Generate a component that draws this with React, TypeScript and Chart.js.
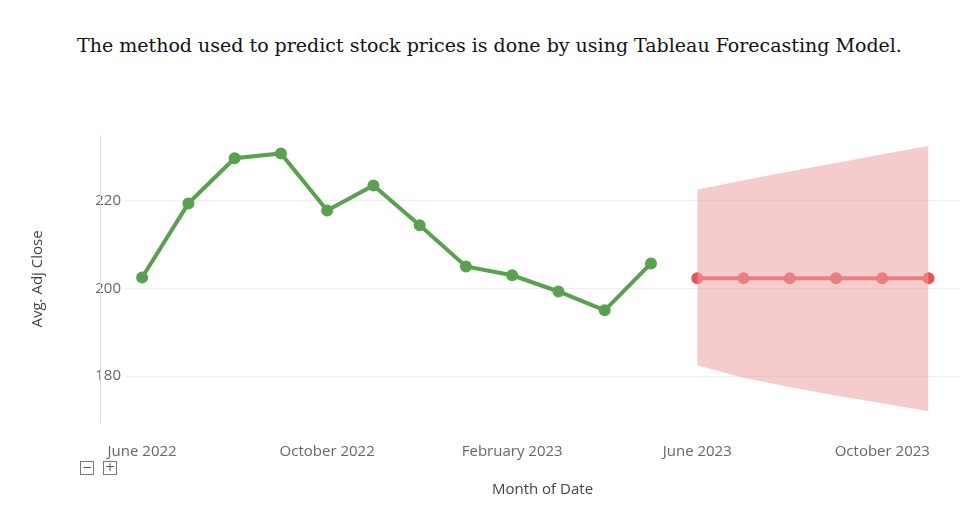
import React, { useEffect, useRef } from 'react';
import { Chart, registerables } from 'chart.js';

Chart.register(...registerables);

// month index: 0 = June 2022
const actualMonths = [0, 1, 2, 3, 4, 5, 6, 7, 8, 9, 10, 11];
const actualValues = [202.5, 219.4, 229.7, 230.8, 217.8, 223.5, 214.4, 205.0, 203.0, 199.3, 195.0, 205.7];
const forecastMonths = [12, 13, 14, 15, 16, 17];
const forecastValues = [202.3, 202.3, 202.3, 202.3, 202.3, 202.3];
const bandUpper = [222.5, 224.7, 226.7, 228.6, 230.6, 232.5];
const bandLower = [182.5, 179.6, 177.5, 175.6, 173.8, 172.0];
const tickLabels: Record<number, string> = {
  0: 'June 2022',
  4: 'October 2022',
  8: 'February 2023',
  12: 'June 2023',
  16: 'October 2023',
};

const green = '#59a14f';
const red = '#e15759';
const font = 'Open Sans, Noto Sans, sans-serif';

const App: React.FC = () => {
  const canvasRef = useRef<HTMLCanvasElement>(null);

  useEffect(() => {
    document.body.style.margin = '0';
    if (!canvasRef.current) return;
    const xy = (xs: number[], ys: number[]) => xs.map((x, i) => ({ x, y: ys[i] }));
    const chart = new Chart(canvasRef.current, {
      type: 'line',
      data: {
        datasets: [
          {
            label: 'lower',
            data: xy(forecastMonths, bandLower),
            borderWidth: 0,
            pointRadius: 0,
            fill: false,
          },
          {
            label: 'upper',
            data: xy(forecastMonths, bandUpper),
            borderWidth: 0,
            pointRadius: 0,
            fill: '-1',
            backgroundColor: 'rgba(238,160,160,0.55)',
          },
          {
            label: 'Actual',
            data: xy(actualMonths, actualValues),
            borderColor: green,
            backgroundColor: green,
            borderWidth: 4,
            pointRadius: 4,
            fill: false,
          },
          {
            label: 'Forecast',
            data: xy(forecastMonths, forecastValues),
            borderColor: red,
            backgroundColor: red,
            borderWidth: 4,
            pointRadius: 4,
            fill: false,
          },
        ],
      },
      options: {
        animation: false,
        responsive: false,
        layout: { padding: { top: 35, right: 19, left: 0, bottom: 0 } },
        plugins: { legend: { display: false }, tooltip: { enabled: false } },
        scales: {
          x: {
            type: 'linear',
            min: -0.37,
            max: 17.68,
            afterBuildTicks: (s) => {
              s.ticks = Object.keys(tickLabels).map((v) => ({ value: Number(v) }));
            },
            afterFit: (s) => {
              s.height = 106;
            },
            grid: { display: false },
            border: { display: false },
            ticks: {
              autoSkip: false,
              maxRotation: 0,
              padding: 12,
              color: '#666',
              font: { family: font, size: 15 },
              callback: (v) => tickLabels[v as number] ?? '',
            },
            title: {
              display: true,
              text: 'Month of Date',
              color: '#444',
              font: { family: font, size: 15 },
              padding: { top: 0, bottom: 30 },
            },
          },
          y: {
            min: 169.3,
            max: 235,
            afterBuildTicks: (s) => {
              s.ticks = [180, 200, 220].map((v) => ({ value: v }));
            },
            afterFit: (s) => {
              s.width = 125;
            },
            grid: { color: '#eeeeee', drawTicks: false },
            border: { display: false },
            ticks: {
              padding: 4,
              color: '#666',
              font: { family: font, size: 15 },
            },
            title: {
              display: true,
              text: 'Avg. Adj Close',
              color: '#444',
              font: { family: font, size: 15 },
              padding: { top: 29, bottom: 0 },
            },
          },
        },
      },
    });
    return () => chart.destroy();
  }, []);

  const box: React.CSSProperties = {
    position: 'absolute',
    top: 461,
    width: 12,
    height: 12,
    border: '1px solid #777',
    fontSize: 12,
    lineHeight: '11px',
    textAlign: 'center',
    color: '#555',
    fontFamily: 'DejaVu Sans, sans-serif',
    background: '#fff',
  };

  return (
    <div style={{ position: 'relative', width: 979, height: 529, background: '#fff', overflow: 'hidden' }}>
      <div
        style={{
          position: 'absolute',
          top: 34,
          left: 0,
          width: 979,
          textAlign: 'center',
          fontFamily: 'DejaVu Serif, serif',
          fontSize: 19,
          color: '#111',
        }}
      >
        The method used to predict stock prices is done by using Tableau Forecasting Model.
      </div>
      <canvas ref={canvasRef} width={979} height={429} style={{ position: 'absolute', top: 100, left: 0 }} />
      <div style={{ position: 'absolute', left: 100, top: 135, width: 1, height: 288, background: '#dcdcdc' }} />
      <div style={{ ...box, left: 80 }}>−</div>
      <div style={{ ...box, left: 103 }}>+</div>
    </div>
  );
};

export default App;
